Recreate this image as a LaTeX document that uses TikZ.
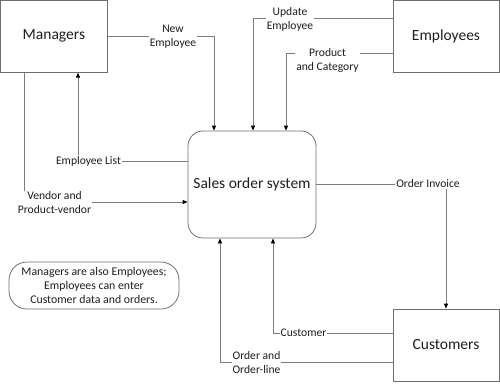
\documentclass[tikz,border=0pt]{standalone}
\usepackage{fontspec}
\setmainfont{Carlito}
\usetikzlibrary{arrows.meta,backgrounds}
\definecolor{linegray}{RGB}{125,125,125}
\definecolor{boxgray}{RGB}{110,110,110}
\definecolor{txt}{RGB}{30,30,30}
\begin{document}
\begin{tikzpicture}[x=1pt,y=-1pt,
  box/.style={draw=boxgray, line width=0.8pt, inner sep=0pt, text=txt,
    font=\fontsize{15.5}{18}\selectfont},
  lab/.style={fill=white, inner sep=1pt, align=center, text=txt,
    font=\fontsize{11.6}{14}\selectfont},
  flow/.style={draw=linegray, line width=0.8pt,
    -{Triangle[length=5pt,width=4pt,color=black]}}]
\useasboundingbox (0,0) rectangle (500,383);
% boxes
\node[box, minimum width=107pt, minimum height=72pt] (M) at (53.9,36.2) {Managers};
\node[box, minimum width=106pt, minimum height=72pt] (E) at (446,36.2) {Employees};
\node[box, minimum width=106pt, minimum height=72pt] (C) at (446,345) {Customers};
\node[box, rounded corners=15pt, minimum width=128pt, minimum height=107pt] (S) at (252,184.5) {Sales order system};
\node[box, rounded corners=18pt, minimum width=170pt, minimum height=47pt, align=center,
  font=\fontsize{11.8}{14}\selectfont] (N) at (94,285.5)
  {Managers are also Employees;\\Employees can enter\\Customer data and orders.};
% corner coordinates
\coordinate (k1) at (214,36);
\coordinate (k2) at (24,202);
\coordinate (k3) at (78,161);
\coordinate (k4) at (253,18);
\coordinate (k5) at (286,53);
\coordinate (k6) at (446,184);
\coordinate (k7) at (273,333);
\coordinate (k8) at (220,362.5);
% labels
\node[lab] (l1) at (173,36.5) {New\\Employee};
\node[lab] (l2) at (54.5,203) {Vendor and\\Product-vendor};
\node[lab] (l3) at (88.5,161) {Employee List};
\node[lab] (l4) at (290,19) {Update\\Employee};
\node[lab] (l5) at (327.5,60.5) {Product\\and Category};
\node[lab] (l6) at (428,184) {Order Invoice};
\node[lab] (l7) at (303.5,333) {Customer};
\node[lab] (l8) at (256.5,362.5) {Order and\\Order-line};
% connectors
\begin{pgfonlayer}{background}
\draw[flow] (M.east |- k1) -- (k1) -- (k1 |- S.north);
\draw[flow] (M.south -| k2) -- (k2) -- (k2 -| S.west);
\draw[flow] (S.west |- k3) -- (k3) -- (k3 |- M.south);
\draw[flow] (E.west |- k4) -- (k4) -- (k4 |- S.north);
\draw[flow] (E.west |- k5) -- (k5) -- (k5 |- S.north);
\draw[flow] (S.east |- k6) -- (k6) -- (k6 |- C.north);
\draw[flow] (C.west |- k7) -- (k7) -- (k7 |- S.south);
\draw[flow] (C.west |- k8) -- (k8) -- (k8 |- S.south);
\end{pgfonlayer}
\end{tikzpicture}
\end{document}
